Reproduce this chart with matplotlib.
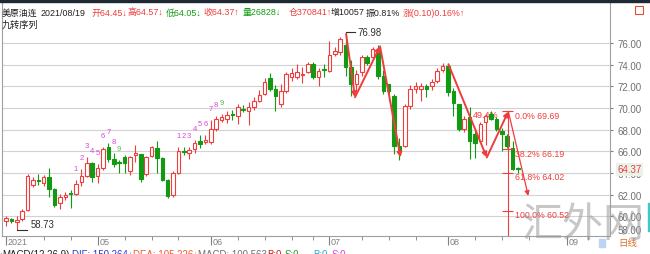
import matplotlib
matplotlib.use("Agg")
import matplotlib.pyplot as plt
from matplotlib.patches import Rectangle
from matplotlib.lines import Line2D

plt.rcParams['font.family'] = ['Liberation Sans', 'Noto Sans CJK SC', 'DejaVu Sans']

# daily bars of 美原油连, mid April 2021 .. 2021/08/19
opens = [59.6, 59.75, 59.5, 59.8, 60.6, 62.9, 63.35, 63.1, 63.6, 62.5,
         61.2, 61.8, 62.15, 62.1, 63.15, 63.75, 64.9, 63.75, 64.5, 66.4,
         65.3, 65.0, 65.5, 64.2, 65.7, 65.75, 63.9, 65.6, 66.3, 65.4,
         63.4, 62.0, 64.0, 66.05, 65.9, 66.2, 67.0, 66.85, 66.85, 68.05,
         68.95, 69.0, 69.45, 69.3, 69.95, 69.75, 70.1, 70.7, 71.3, 72.8,
         71.75, 70.35, 71.6, 72.9, 72.9, 73.05, 73.3, 74.05, 72.85, 73.65,
         73.45, 75.0, 75.2, 75.8, 73.75, 72.2, 73.3, 74.7, 74.7, 75.3,
         73.0, 72.2, 71.15, 66.5, 66.5, 70.2, 71.75, 71.8, 72.0, 72.0,
         72.5, 73.5, 73.9, 71.6, 70.4, 68.05, 69.15, 67.6, 67.0, 68.7,
         69.45, 69.0, 67.9, 67.45, 66.3, 64.45]
highs = [60.0, 59.9, 60.0, 60.7, 63.9, 63.6, 63.9, 63.8, 64.5, 62.6,
         62.1, 62.3, 62.4, 63.4, 64.4, 65.5, 65.0, 64.8, 66.4, 66.8,
         65.9, 65.2, 65.7, 65.6, 66.6, 65.8, 65.6, 66.5, 67.0, 65.5,
         63.5, 64.2, 66.4, 66.4, 66.4, 67.1, 67.5, 67.5, 68.9, 69.3,
         69.5, 69.7, 69.8, 70.4, 70.3, 70.6, 71.0, 71.7, 72.8, 73.2,
         72.1, 72.2, 73.3, 73.7, 74.1, 73.8, 74.3, 74.3, 73.7, 74.1,
         76.2, 75.6, 76.6, 76.98, 74.4, 73.5, 74.9, 74.9, 75.6, 75.8,
         73.5, 72.2, 71.3, 67.2, 70.4, 72.1, 72.4, 72.3, 72.2, 72.7,
         73.7, 74.2, 74.2, 71.9, 70.4, 69.3, 70.06, 68.0, 68.7, 69.5,
         69.69, 69.2, 68.2, 67.6, 67.0, 64.57]
lows = [59.1, 59.4, 58.73, 59.6, 60.5, 62.7, 62.9, 62.8, 61.8, 60.9,
        60.7, 61.5, 60.8, 62.0, 62.8, 63.6, 63.15, 63.1, 64.3, 65.0,
        64.6, 64.05, 64.0, 63.8, 65.0, 63.2, 63.7, 65.5, 64.0, 63.3,
        61.7, 61.8, 63.9, 65.7, 65.3, 65.9, 66.3, 66.7, 66.7, 67.9,
        68.7, 68.6, 68.9, 68.5, 69.6, 68.4, 69.8, 70.6, 71.2, 71.6,
        69.75, 70.1, 71.4, 72.5, 72.7, 72.3, 73.2, 72.7, 72.0, 72.85,
        73.3, 74.8, 74.9, 73.0, 71.15, 71.6, 73.0, 74.0, 74.5, 72.7,
        71.3, 70.7, 65.8, 65.2, 66.4, 69.9, 71.4, 70.7, 71.0, 71.7,
        72.3, 73.3, 71.1, 69.3, 67.9, 67.8, 65.3, 65.4, 66.9, 66.6,
        68.9, 67.9, 66.0, 66.3, 64.3, 64.05]
closes = [59.9, 59.6, 59.7, 60.5, 63.7, 63.4, 63.25, 63.6, 62.5, 61.1,
          61.8, 62.0, 62.05, 63.0, 63.75, 64.9, 63.6, 64.5, 66.2, 65.3,
          64.8, 64.9, 64.9, 65.5, 65.9, 63.45, 65.5, 66.4, 65.4, 63.4,
          61.9, 64.0, 66.05, 65.95, 66.1, 66.8, 66.7, 67.1, 68.05, 69.0,
          69.15, 69.4, 69.35, 70.1, 69.85, 70.1, 70.7, 71.2, 72.4, 71.75,
          71.15, 71.6, 73.15, 73.2, 73.3, 73.15, 74.05, 72.85, 73.45, 73.55,
          74.9, 75.3, 76.4, 73.75, 72.2, 73.15, 74.7, 74.2, 75.45, 73.0,
          71.6, 71.6, 66.5, 66.1, 70.2, 71.75, 72.05, 72.0, 71.8, 72.4,
          73.45, 73.9, 71.45, 70.5, 68.05, 69.0, 67.0, 66.8, 68.5, 69.3,
          69.0, 68.05, 67.6, 66.5, 64.4, 64.37]

month_pos = [0, 17, 38, 60, 82, 104]
month_labels = ['2021', '05', '06', '07', '08', '09']
week_pos = [7, 12, 22, 27, 32, 43, 48, 53, 57, 66, 71, 76, 87, 92, 97, 108]

td_starts = [13, 32]   # 九转序列 counts 1..9

# hand-drawn waves (bar index, price)
wave1_x = [63.1, 64.75, 69.4, 73.2]
wave1_y = [76.84, 71.0, 75.7, 65.45]
wave2_x = [82.1, 89.2, 93.2, 96.9]
wave2_y = [74.03, 65.45, 69.69, 61.9]

fib_x = 93.2
fib_top, fib_bottom = 69.69, 60.52
fib_ratios = [0.0, 0.382, 0.618, 1.0]

header = [("美原油连", '#202020'), ("2021/08/19", '#202020'), ("开64.45↓", 'r'),
          ("高64.57↓", 'r'), ("低64.05↓", 'g'), ("收64.37↑", 'r'), ("量26828↓", 'g'),
          ("仓370841↑", 'r'), ("增10057", '#202020'), ("振0.81%", '#202020'),
          ("涨(0.10)0.16%↑", 'r')]
header_x = [2, 41, 91, 128, 166, 203, 243, 289, 331, 366, 403]
macd_row = [("MACD(12,26,9)", '#202020'), ("DIF: 150.264↓", '#2a3cc8'),
            ("DEA: 105.226↓", '#e8602c'), ("MACD: 100.563↓", '#707070'),
            ("B:0", '#d02020'), ("S:0", '#20a020'), ("B:0", '#20b0d0'), ("S:0", '#e040e0')]
macd_x = [2, 72, 133, 198, 267, 285, 313, 332]

RED = '#f03c3c'
GREEN = '#129a12'
GRAY = '#808080'
W, H = 650, 255


def fx(px):
    return px / W


def fy(py):
    return 1 - py / H


fig = plt.figure(figsize=(6.5, 2.55), dpi=100)
ax = fig.add_axes([fx(2), fy(237), (610 - 2) / W, (237 - 4) / H])
ax.set_xlim(-0.74, 112.06)
ax.set_ylim(58.2, 79.7)

# candles
for i, (o, h, l, c) in enumerate(zip(opens, highs, lows, closes)):
    up = c >= o
    col = RED if up else GREEN
    ax.vlines(i, l, h, color=col, lw=0.8, zorder=3)
    ax.add_patch(Rectangle((i - 0.33, min(o, c)), 0.66, max(abs(c - o), 0.05),
                           facecolor='white' if up else col, edgecolor=col,
                           lw=0.8, zorder=4))

# extreme marks
i_hi = highs.index(max(highs))
i_lo = lows.index(min(lows))
ax.plot([i_hi, i_hi + 1.7], [highs[i_hi]] * 2, color='#303030', lw=0.8, zorder=5)
ax.text(i_hi + 2.2, highs[i_hi], f"{highs[i_hi]:.2f}", fontsize=6.9, color='#303030',
        va='center', ha='left', zorder=5)
ax.plot([i_lo, i_lo + 1.9], [lows[i_lo]] * 2, color='#303030', lw=0.8, zorder=5)
ax.text(i_lo + 2.5, lows[i_lo] + 0.15, f"{lows[i_lo]:.2f}", fontsize=6.9, color='#303030',
        va='bottom', ha='left', zorder=5)

# 九转序列 labels
for s in td_starts:
    for k in range(9):
        i = s + k
        ax.annotate(str(k + 1), xy=(i, highs[i]), xytext=(0, 8.3),
                    textcoords='offset points', ha='center', va='center',
                    fontsize=5.5, color='#4cc04c' if k == 8 else '#d848d8', zorder=5)

# waves
for xs, ys in [(wave1_x, wave1_y), (wave2_x, wave2_y)]:
    for j in range(len(xs) - 1):
        lw = 0.9 if (xs is wave2_x and j == 2) else 1.4
        ax.annotate('', xy=(xs[j + 1], ys[j + 1]), xytext=(xs[j], ys[j]),
                    arrowprops=dict(arrowstyle='-|>', color=RED, lw=lw,
                                    mutation_scale=7, shrinkA=0, shrinkB=0),
                    zorder=6)
retr = (wave2_y[2] - wave2_y[1]) / (wave2_y[0] - wave2_y[1])
ax.text(86.6, 69.45, f"{retr * 100:.1f}%", fontsize=6.5, color=RED,
        ha='left', va='center', zorder=2)

# fibonacci
span = fib_top - fib_bottom
ax.plot([fib_x, fib_x], [fib_top, 50], color=RED, lw=0.8, zorder=5)
for r in fib_ratios:
    lvl = fib_top - r * span
    ax.hlines(lvl, fib_x - 1.1, fib_x + 0.9, color=RED, lw=0.8, zorder=5)
    ax.annotate(f"{r * 100:.1f}% {lvl:.2f}", xy=(fib_x, lvl), xytext=(4.7, 0.5),
                textcoords='offset points', ha='left', va='top',
                fontsize=6.3, color=RED, zorder=2)

# axes styling
ax.set_yticks(range(60, 77, 2))
ax.yaxis.tick_right()
ax.yaxis.set_major_formatter(matplotlib.ticker.FormatStrFormatter('%.2f'))
ax.tick_params(axis='y', length=2.2, pad=2.9, color=GRAY, labelsize=7,
               labelcolor='#707070')
ax.grid(axis='y', color='#d2d2d2', lw=0.8)
ax.set_axisbelow(True)
ax.set_xticks(month_pos)
ax.set_xticklabels([])
ax.set_xticks(week_pos, minor=True)
ax.tick_params(axis='x', which='major', length=6.5, color=GRAY)
ax.tick_params(axis='x', which='minor', length=3, color=GRAY)
for p, lab in zip(month_pos, month_labels):
    ax.annotate(lab, xy=(p, 0), xycoords=('data', 'axes fraction'), xytext=(1.2, -0.6),
                textcoords='offset points', ha='left', va='top', fontsize=6.5,
                color=GRAY, annotation_clip=False)
ax.annotate("58.00", xy=(1, 0), xycoords='axes fraction', xytext=(5.1, 0.6),
            textcoords='offset points', ha='left', va='bottom', fontsize=7,
            color='#707070', annotation_clip=False)
ax.annotate(f"{closes[-1]:.2f}", xy=(1, closes[-1]), xycoords=('axes fraction', 'data'),
            xytext=(5.1, 0), textcoords='offset points', ha='left', va='center',
            fontsize=7, color=RED, annotation_clip=False, zorder=7,
            bbox=dict(boxstyle='square,pad=0.15', fc='#eaf3ea', ec='none'))
ax.spines['top'].set_visible(False)
for side in ['left', 'right', 'bottom']:
    ax.spines[side].set_color('#a0a0a0')
    ax.spines[side].set_linewidth(0.8)

# frame pieces outside the plot
fig.patches.append(Rectangle((0, fy(2.5)), 1, 2.5 / H, transform=fig.transFigure,
                             color='#1f2933'))
fig.lines.append(Line2D([fx(2), fx(645)], [fy(248), fy(248)], color='#a0a0a0', lw=0.8))
fig.lines.append(Line2D([fx(610), fx(645)], [fy(237.5), fy(237.5)], color='#a0a0a0', lw=0.8))
fig.lines.append(Line2D([fx(645), fx(645)], [fy(3), fy(248)], color='#a0a0a0', lw=0.8))
fig.lines.append(Line2D([fx(610), fx(610)], [fy(237), fy(248)], color='#a0a0a0', lw=0.8))
fig.patches.append(Rectangle((fx(599), fy(248)), 6 / W, 8 / H, transform=fig.transFigure,
                             color='#bcd6f2'))
fig.patches.append(Rectangle((fx(635), fy(15)), 8 / W, 8 / H, transform=fig.transFigure,
                             fill=False, ec='#e05030', lw=0.8))
fig.patches.append(Rectangle((fx(648), fy(232)), 2 / W, 28 / H, transform=fig.transFigure,
                             color='#40c8c8'))
fig.text(fx(618), fy(244), "日线", fontsize=6.8, color='#e07028', va='center', ha='left')

colors = {'r': RED, 'g': GREEN}
for (t, c), x in zip(header, header_x):
    fig.text(fx(x), fy(13), t, fontsize=6.4, color=colors.get(c, c), va='center', ha='left')
fig.text(fx(2), fy(25), "九转序列", fontsize=6.6, color='#202020', va='center', ha='left')
for (t, c), x in zip(macd_row, macd_x):
    fig.text(fx(x), fy(250.5), t, fontsize=7, color=c, va='top', ha='left')

# watermark
fig.text(fx(583), fy(226), "汇外网", fontsize=29.5, color='#9a9a9a', alpha=0.55,
         ha='center', va='center', family=['Noto Sans CJK SC'], fontweight='light',
         zorder=10)

fig.savefig('out.png', dpi=100)
